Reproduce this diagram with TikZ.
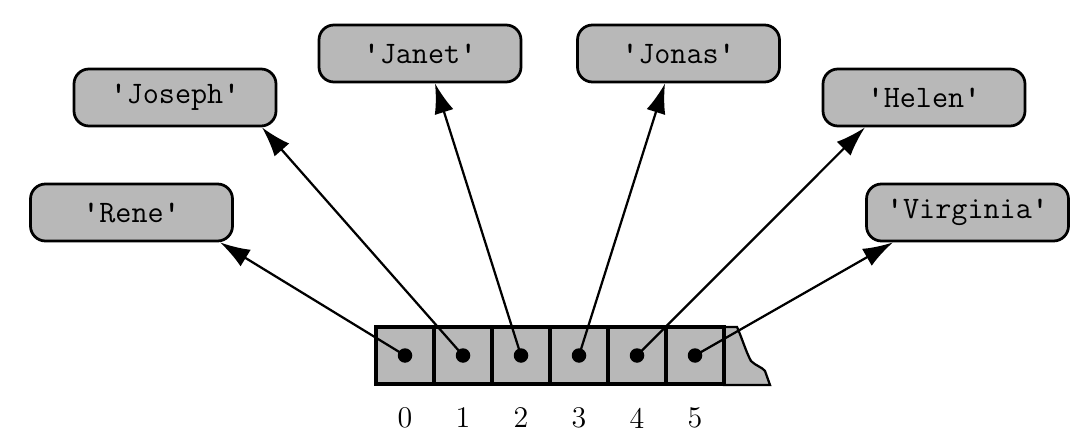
\documentclass[tikz,border=0pt]{standalone}
\usetikzlibrary{arrows.meta,calc}
\newcommand{\qmark}{{\bfseries\textquotesingle}}
\newcommand{\qq}[1]{\qmark#1\qmark}
\begin{document}
\begin{tikzpicture}[x=0.4pt,y=-0.4pt,
  namebox/.style={draw=black,line width=1.1pt,fill=boxgray,rounded corners=6pt,
    minimum width=80.8pt,minimum height=22.8pt,inner sep=0pt,
    font=\fontsize{12.5}{14}\ttfamily},
  cellbox/.style={draw=black,line width=1.3pt,fill=boxgray,
    minimum width=23.2pt,minimum height=22.8pt,inner sep=0pt},
  ptr/.style={circle,fill=black,minimum size=5.8pt,inner sep=0pt},
  idx/.style={font=\fontsize{12}{14}\selectfont},
  link/.style={line width=0.9pt,-{Latex[length=12pt,width=7.8pt]}}
]
\definecolor{boxgray}{gray}{0.72}
\useasboundingbox (0,0) rectangle (1087,439);
% name boxes
\node[namebox] (rene)     at (131.5,212.5) {\qq{Rene}};
\node[namebox] (joseph)   at (175,97.5)    {\qq{Joseph}};
\node[namebox] (janet)    at (420,53.5)    {\qq{Janet}};
\node[namebox] (jonas)    at (678.5,53.5)  {\qq{Jonas}};
\node[namebox] (helen)    at (924,97.5)    {\qq{Helen}};
\node[namebox] (virginia) at (967.5,212.5) {\qq{Virginia}};
% torn end of the array
\filldraw[fill=boxgray,draw=black,line width=0.9pt]
  (724,327) -- (737,327) .. controls (742,338) and (746,352) .. (751,361)
  .. controls (756,366) and (762,367) .. (765,371) -- (770,385) -- (724,385) -- cycle;
% array cells
\foreach \i/\x in {0/405,1/463,2/521,3/579,4/637,5/695}{
  \node[cellbox] (c\i) at (\x,355.5) {};
  \node[idx] (n\i) at (\x,418) {\i};
}
\foreach \i in {0,...,5}{
  \node[ptr] (d\i) at (c\i.center) {};
}
% targets on the name boxes
\coordinate (t0) at ($(rene.south)+(88.5,0)$);
\coordinate (t1) at ($(joseph.south)+(87,0)$);
\coordinate (t2) at ($(janet.south)+(15,0)$);
\coordinate (t3) at ($(jonas.south)+(-13.5,0)$);
\coordinate (t4) at ($(helen.south)+(-59,0)$);
\coordinate (t5) at ($(virginia.south)+(-74.5,0)$);
\foreach \i in {0,...,5}{
  \draw[link] (d\i.center) -- (t\i);
}
\end{tikzpicture}
\end{document}
